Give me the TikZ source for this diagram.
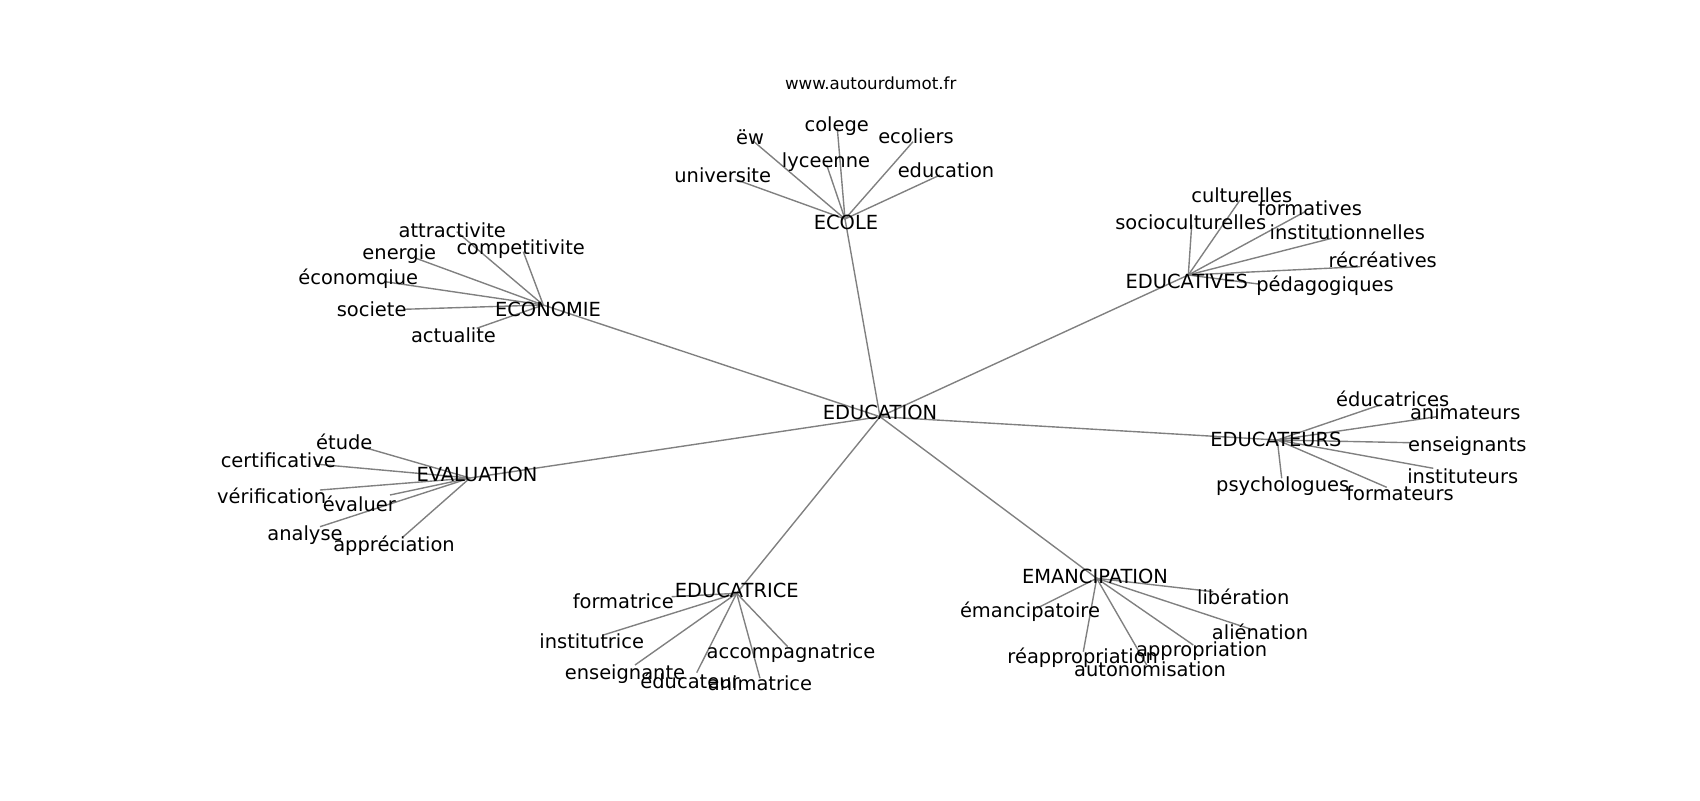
\documentclass[tikz,border=0pt]{standalone}
\usepackage{fontspec}
\setmainfont{DejaVu Sans}
\begin{document}
\begin{tikzpicture}[x=0.72pt,y=-0.72pt,
  lbl/.style={inner sep=0pt,anchor=center,text height=0.73em,text depth=0pt,yshift=-1.9pt,font=\fontsize{14}{16}\selectfont},
  ttl/.style={inner sep=0pt,anchor=center,text height=0.73em,text depth=0pt,yshift=-1pt,font=\fontsize{12}{14}\selectfont},
  edge/.style={draw=black!50,line width=1pt}]
\useasboundingbox (0,0) rectangle (1700,800);
% ---- end points (graph positions)
\foreach \n/\x/\y in {
 EDUCATION/880/416.7, ECOLE/845/219, ECONOMIE/543.3/305, EDUCATIVES/1188.3/275,
 EDUCATEURS/1277.3/440, EVALUATION/470/478, EDUCATRICE/736.7/593.3, EMANCIPATION/1096.7/578.3,
 ew/754/141.7, colege/837.3/128.3, ecoliers/913/141.7, lyceenne/826.7/165, universite/735/179.3, education/940/175,
 attractivite/456.7/231.7, competitivite/523.3/251.7, energie/416/258.3, economqiue/385/281.7, societe/403.3/309.3, actualite/476.7/328.3,
 culturelles/1240/200, formatives/1305/211.7, socioculturelles/1191.7/225, institutionnelles/1331.7/238.3, recreatives/1360/266.7, pedagogiques/1258.3/284,
 educatrices/1380/405, animateurs/1436.7/416.7, enseignants/1410/442.7, instituteurs/1433.3/468.3, formateurs/1386.7/487.3, psychologues/1281.7/478.3,
 etude/361.7/446.7, certificative/315/464, verification/320/490, evaluer/390/495, analyse/320/526.7, appreciation/403.3/536.7,
 formatrice/671.7/596.7, institutrice/603.3/635, enseignante/635/665, educateur/696.7/672.7, accompagnatrice/787.7/646.7, animatrice/760/678.3,
 emancipatoire/1036.7/608.3, liberation/1213.3/591.7, alienation/1253.3/630, appropriation/1193.3/645, reappropriation/1083.3/651.7, autonomisation/1146.7/665}
 \coordinate (p-\n) at (\x,\y);
% ---- connectors
\foreach \a/\b in {
 EDUCATION/ECOLE, EDUCATION/ECONOMIE, EDUCATION/EDUCATIVES, EDUCATION/EDUCATEURS, EDUCATION/EVALUATION, EDUCATION/EDUCATRICE, EDUCATION/EMANCIPATION,
 ECOLE/ew, ECOLE/colege, ECOLE/ecoliers, ECOLE/lyceenne, ECOLE/universite, ECOLE/education,
 ECONOMIE/attractivite, ECONOMIE/competitivite, ECONOMIE/energie, ECONOMIE/economqiue, ECONOMIE/societe, ECONOMIE/actualite,
 EDUCATIVES/culturelles, EDUCATIVES/formatives, EDUCATIVES/socioculturelles, EDUCATIVES/institutionnelles, EDUCATIVES/recreatives, EDUCATIVES/pedagogiques,
 EDUCATEURS/educatrices, EDUCATEURS/animateurs, EDUCATEURS/enseignants, EDUCATEURS/instituteurs, EDUCATEURS/formateurs, EDUCATEURS/psychologues,
 EVALUATION/etude, EVALUATION/certificative, EVALUATION/verification, EVALUATION/evaluer, EVALUATION/analyse, EVALUATION/appreciation,
 EDUCATRICE/formatrice, EDUCATRICE/institutrice, EDUCATRICE/enseignante, EDUCATRICE/educateur, EDUCATRICE/accompagnatrice, EDUCATRICE/animatrice,
 EMANCIPATION/emancipatoire, EMANCIPATION/liberation, EMANCIPATION/alienation, EMANCIPATION/appropriation, EMANCIPATION/reappropriation, EMANCIPATION/autonomisation}
 \draw[edge] (p-\a) -- (p-\b);
% ---- labels
\node[ttl] (title) at (870.7,82.7) {www.autourdumot.fr};
\node[lbl] (EDUCATION) at (880,411.7) {EDUCATION};
\node[lbl] (ECOLE) at (846,222) {ECOLE};
\node[lbl] (ECONOMIE) at (548,309) {ECONOMIE};
\node[lbl] (EDUCATIVES) at (1186.7,280.7) {EDUCATIVES};
\node[lbl] (EDUCATEURS) at (1276,438.3) {EDUCATEURS};
\node[lbl] (EVALUATION) at (477,474) {EVALUATION};
\node[lbl] (EDUCATRICE) at (736.7,590) {EDUCATRICE};
\node[lbl] (EMANCIPATION) at (1095,575.7) {EMANCIPATION};
%
\node[lbl] (ew) at (750,136.7) {ëw};
\node[lbl] (colege) at (836.7,123.3) {colege};
\node[lbl] (ecoliers) at (916,136) {ecoliers};
\node[lbl] (lyceenne) at (826,160) {lyceenne};
\node[lbl] (universite) at (722.7,174.3) {universite};
\node[lbl] (education) at (946,170) {education};
%
\node[lbl] (attractivite) at (452.3,230) {attractivite};
\node[lbl] (competitivite) at (520.7,246.7) {competitivite};
\node[lbl] (energie) at (399.3,251.7) {energie};
\node[lbl] (economqiue) at (358.3,276.7) {économqiue};
\node[lbl] (societe) at (371.7,308.3) {societe};
\node[lbl] (actualite) at (453.5,335) {actualite};
%
\node[lbl] (culturelles) at (1241.7,195) {culturelles};
\node[lbl] (formatives) at (1310,207.7) {formatives};
\node[lbl] (socioculturelles) at (1190.7,221.7) {socioculturelles};
\node[lbl] (institutionnelles) at (1347.3,231.7) {institutionnelles};
\node[lbl] (recreatives) at (1382.7,260) {récréatives};
\node[lbl] (pedagogiques) at (1325,284) {pédagogiques};
%
\node[lbl] (educatrices) at (1392.7,398.3) {éducatrices};
\node[lbl] (animateurs) at (1465.3,411.7) {animateurs};
\node[lbl] (enseignants) at (1467.3,443.3) {enseignants};
\node[lbl] (instituteurs) at (1462.7,475.7) {instituteurs};
\node[lbl] (formateurs) at (1400,492.3) {formateurs};
\node[lbl] (psychologues) at (1282.7,483.3) {psychologues};
%
\node[lbl] (etude) at (344.3,441.7) {étude};
\node[lbl] (certificative) at (278.3,460) {certificative};
\node[lbl] (verification) at (271.7,496) {vérification};
\node[lbl] (evaluer) at (359.3,503.3) {évaluer};
\node[lbl] (analyse) at (305,532.7) {analyse};
\node[lbl] (appreciation) at (394,543.3) {appréciation};
%
\node[lbl] (formatrice) at (623.3,601) {formatrice};
\node[lbl] (institutrice) at (591.7,641) {institutrice};
\node[lbl] (enseignante) at (625,671.7) {enseignante};
\node[lbl] (educateur) at (690,680.7) {éducateur};
\node[lbl] (accompagnatrice) at (791,650.7) {accompagnatrice};
\node[lbl] (animatrice) at (760,682.3) {animatrice};
%
\node[lbl] (emancipatoire) at (1030,609.3) {émancipatoire};
\node[lbl] (liberation) at (1243.3,596.7) {libération};
\node[lbl] (alienation) at (1260,631.7) {aliénation};
\node[lbl] (appropriation) at (1201.7,648.3) {appropriation};
\node[lbl] (reappropriation) at (1082.7,656) {réappropriation};
\node[lbl] (autonomisation) at (1150,669) {autonomisation};
\end{tikzpicture}
\end{document}
